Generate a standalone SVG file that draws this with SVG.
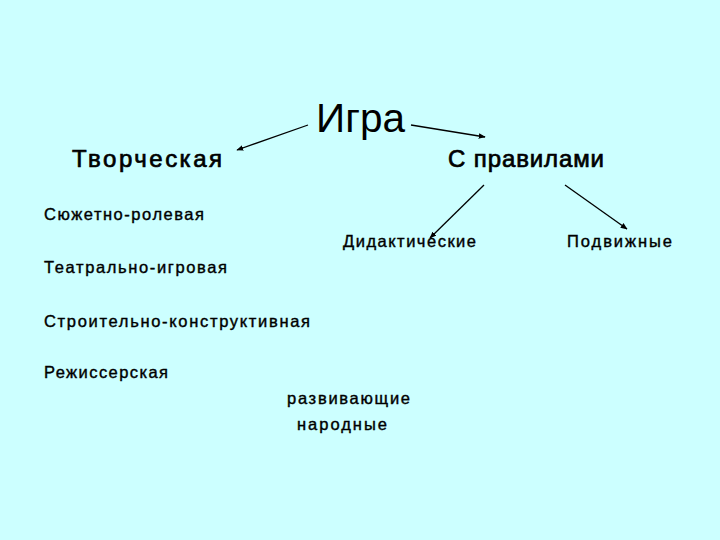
<svg xmlns="http://www.w3.org/2000/svg" width="720" height="540" viewBox="0 0 720 540">
<style>
text{font-family:"Liberation Sans",Arial,sans-serif;fill:#000}
.t{font-size:40px}
.h{font-size:24px;stroke:#000;stroke-width:0.7}
.s{font-size:16.5px;stroke:#000;stroke-width:0.4}
.c line{stroke:#000;stroke-width:1.3;marker-end:url(#ah)}
</style>
<defs>
<marker id="ah" viewBox="0 0 10 10" refX="9" refY="5" markerWidth="7" markerHeight="7" orient="auto" markerUnits="userSpaceOnUse"><path d="M0,1 L10,5 L0,9 z" fill="#000"/></marker>
</defs>
<rect width="720" height="540" fill="#CCFFFF"/>
<g id="connectors" class="c">
<line x1="308" y1="125" x2="237" y2="150"/>
<line x1="411" y1="125" x2="485" y2="137"/>
<line x1="484" y1="185" x2="430" y2="238"/>
<line x1="565" y1="185" x2="627" y2="229"/>
</g>
<g id="igra"><text class="t" x="316" y="132" textLength="89" lengthAdjust="spacingAndGlyphs">Игра</text></g>
<g id="tvorcheskaya"><text class="h" x="72" y="167" textLength="150">Творческая</text></g>
<g id="s-pravilami"><text class="h" x="448" y="167" textLength="156">С правилами</text></g>
<g id="syuzhetno"><text class="s" x="44" y="220" textLength="160">Сюжетно-ролевая</text></g>
<g id="didakticheskie"><text class="s" x="343" y="247" textLength="133">Дидактические</text></g>
<g id="podvizhnye"><text class="s" x="567" y="247" textLength="105">Подвижные</text></g>
<g id="teatralno"><text class="s" x="44" y="273" textLength="183">Театрально-игровая</text></g>
<g id="stroitelno"><text class="s" x="44" y="327" textLength="266">Строительно-конструктивная</text></g>
<g id="rezhisserskaya"><text class="s" x="44" y="378" textLength="124">Режиссерская</text></g>
<g id="razvivayushchie"><text class="s" x="287" y="404" textLength="123">развивающие</text></g>
<g id="narodnye"><text class="s" x="297" y="430" textLength="90">народные</text></g>
</svg>
